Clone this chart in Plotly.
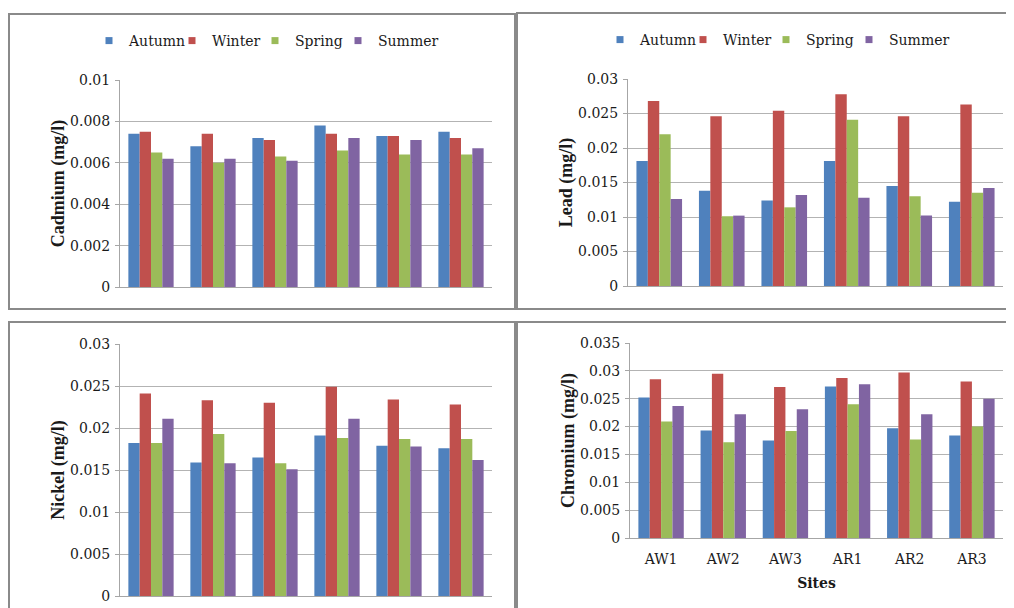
import plotly.graph_objects as go

sites = ["AW1", "AW2", "AW3", "AR1", "AR2", "AR3"]
seasons = ["Autumn", "Winter", "Spring", "Summer"]
season_colors = ["#4F81BD", "#C0504D", "#9BBB59", "#8064A2"]

cadmium_autumn = [0.0074, 0.0068, 0.0072, 0.0078, 0.0073, 0.0075]
cadmium_winter = [0.0075, 0.0074, 0.0071, 0.0074, 0.0073, 0.0072]
cadmium_spring = [0.0065, 0.0060, 0.0063, 0.0066, 0.0064, 0.0064]
cadmium_summer = [0.0062, 0.0062, 0.0061, 0.0072, 0.0071, 0.0067]

lead_autumn = [0.0181, 0.0138, 0.0124, 0.0181, 0.0145, 0.0122]
lead_winter = [0.0268, 0.0246, 0.0254, 0.0278, 0.0246, 0.0263]
lead_spring = [0.0220, 0.0101, 0.0114, 0.0241, 0.0130, 0.0135]
lead_summer = [0.0126, 0.0102, 0.0132, 0.0128, 0.0102, 0.0142]

nickel_autumn = [0.0182, 0.0159, 0.0165, 0.0191, 0.0179, 0.0176]
nickel_winter = [0.0241, 0.0233, 0.0230, 0.0249, 0.0234, 0.0228]
nickel_spring = [0.0182, 0.0193, 0.0158, 0.0188, 0.0187, 0.0187]
nickel_summer = [0.0211, 0.0158, 0.0151, 0.0211, 0.0178, 0.0162]

chromium_autumn = [0.0252, 0.0193, 0.0175, 0.0272, 0.0197, 0.0184]
chromium_winter = [0.0285, 0.0295, 0.0271, 0.0287, 0.0297, 0.0281]
chromium_spring = [0.0209, 0.0172, 0.0192, 0.0240, 0.0177, 0.0200]
chromium_summer = [0.0237, 0.0222, 0.0231, 0.0276, 0.0222, 0.0250]

panels = [
    ("Cadmium (mg/l)", [cadmium_autumn, cadmium_winter, cadmium_spring, cadmium_summer], 0.01, 0.002),
    ("Lead (mg/l)", [lead_autumn, lead_winter, lead_spring, lead_summer], 0.03, 0.005),
    ("Nickel (mg/l)", [nickel_autumn, nickel_winter, nickel_spring, nickel_summer], 0.03, 0.005),
    ("Chromium (mg/l)", [chromium_autumn, chromium_winter, chromium_spring, chromium_summer], 0.035, 0.005),
]

# the page body has an 8px margin, so the figure is drawn at (8, 8)
OFF = 8
W, H = 1014 - OFF, 608 - OFF
FONT = "DejaVu Serif, serif"
TITLE_FONT = "Liberation Serif, Times New Roman, serif"
TXT = "#1a1a1a"

# plot-area pixel boxes in page coordinates: (left, right, top, bottom)
boxes = [(120, 492, 80, 287), (628, 1003, 79, 286), (120, 492, 344, 596), (630, 1003, 343, 538)]
# panel frames in page coordinates
frames = [(9, 515, 14, 309), (517, 1030, 13, 309), (9, 515, 322, 630), (517, 1030, 322, 630)]


def px_x(v):
    return (v - OFF) / W


def px_y(v):
    return 1 - (v - OFF) / H


fig = go.Figure()

for i, (title, series, ymax, dt) in enumerate(panels):
    ax = "" if i == 0 else str(i + 1)
    for s, name in enumerate(seasons):
        fig.add_trace(go.Bar(
            x=sites, y=series[s], name=name,
            marker=dict(color=season_colors[s], line=dict(width=0)),
            xaxis="x" + ax, yaxis="y" + ax, showlegend=False,
        ))
    l, r, t, b = boxes[i]
    fig.update_layout(**{
        "xaxis" + ax: dict(
            domain=[px_x(l), px_x(r)], anchor="y" + ax,
            showticklabels=(i == 3), showgrid=False,
            showline=True, linecolor="#a6a6a6", linewidth=1,
            ticks="", ticklabelstandoff=8,
            tickfont=dict(family=FONT, size=14, color=TXT),
            title=dict(text="<b>Sites</b>" if i == 3 else "",
                       font=dict(family=FONT, size=14, color=TXT), standoff=12),
            automargin=False, fixedrange=True,
        ),
        "yaxis" + ax: dict(
            domain=[px_y(b), px_y(t)], anchor="x" + ax,
            range=[0, ymax], tickmode="linear", tick0=0, dtick=dt,
            showgrid=True, gridcolor="#b3b3b3", gridwidth=1,
            showline=True, linecolor="#a6a6a6", linewidth=1,
            ticks="outside", ticklen=4, tickcolor="#a6a6a6", ticklabelstandoff=2,
            tickfont=dict(family=FONT, size=14, color=TXT),
            title=dict(text=f"<b>{title}</b>", font=dict(family=TITLE_FONT, size=18, color=TXT), standoff=0),
            zeroline=False, automargin=False, fixedrange=True,
        ),
    })

# legend entries (one legend for each of the two top panels)
for leg, ax in (("legend", ""), ("legend2", "2")):
    for s, name in enumerate(seasons):
        fig.add_trace(go.Scatter(
            x=[None], y=[None], mode="markers", name=name,
            marker=dict(symbol="square", size=7, color=season_colors[s]),
            xaxis="x" + ax, yaxis="y" + ax, legend=leg, showlegend=True,
            hoverinfo="skip",
        ))
    # blank spacer entry so the last label is not clipped by the fixed entry width
    fig.add_trace(go.Scatter(
        x=[None], y=[None], mode="markers", name=" ",
        marker=dict(symbol="square", size=7, color="rgba(0,0,0,0)"),
        xaxis="x" + ax, yaxis="y" + ax, legend=leg, showlegend=True,
        hoverinfo="skip",
    ))

shapes = []
for (l, r, t, b) in frames:
    shapes.append(dict(type="rect", xref="paper", yref="paper",
                       x0=px_x(l), x1=px_x(r), y0=px_y(b), y1=px_y(t),
                       line=dict(color="#8a8a8a", width=2), fillcolor="rgba(0,0,0,0)", layer="below"))

legend_style = dict(orientation="h", xanchor="left", yanchor="middle",
                    font=dict(family=FONT, size=14, color=TXT),
                    bgcolor="rgba(0,0,0,0)", itemwidth=30, tracegroupgap=0,
                    entrywidth=38, entrywidthmode="pixels",
                    itemclick=False, itemdoubleclick=False)

fig.update_layout(
    width=W, height=H,
    margin=dict(l=0, r=0, t=0, b=0, autoexpand=False),
    paper_bgcolor="white", plot_bgcolor="white",
    barmode="group", bargap=0.27, bargroupgap=0,
    shapes=shapes,
    legend=dict(x=px_x(89), y=px_y(41), **legend_style),
    legend2=dict(x=px_x(600), y=px_y(40), **legend_style),
    font=dict(family=FONT),
)

fig.write_html("out.html")
